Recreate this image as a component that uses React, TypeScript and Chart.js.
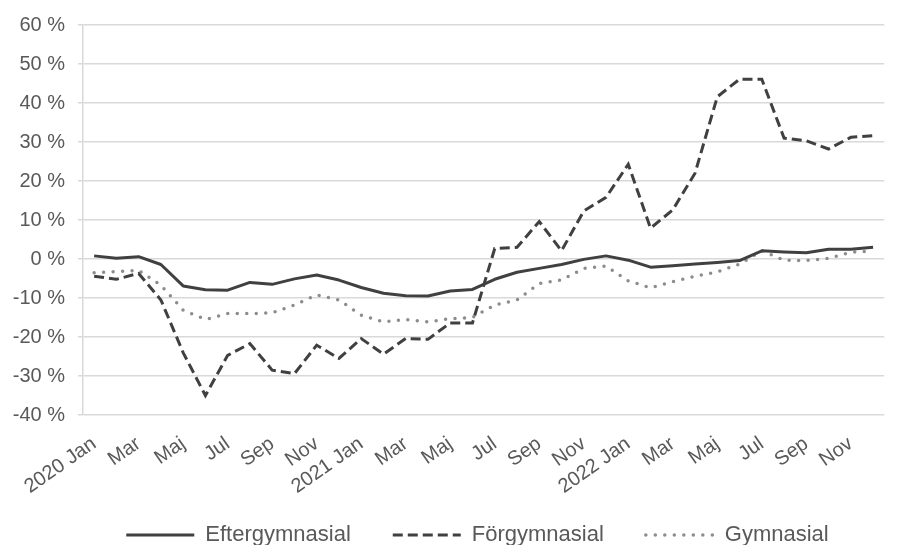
import React, { useEffect, useRef } from "react";
import { Chart, registerables } from "chart.js";

Chart.register(...registerables);

const months = [
  "2020 Jan", "Feb", "Mar", "Apr", "Maj", "Jun", "Jul", "Aug", "Sep", "Okt", "Nov", "Dec",
  "2021 Jan", "Feb", "Mar", "Apr", "Maj", "Jun", "Jul", "Aug", "Sep", "Okt", "Nov", "Dec",
  "2022 Jan", "Feb", "Mar", "Apr", "Maj", "Jun", "Jul", "Aug", "Sep", "Okt", "Nov", "Dec",
];

const eftergymnasial = [
  0.8, 0.2, 0.6, -1.4, -6.9, -7.9, -8.0, -6.0, -6.5, -5.1, -4.1, -5.4,
  -7.3, -8.8, -9.4, -9.5, -8.2, -7.8, -5.2, -3.4, -2.4, -1.4, -0.1, 0.8,
  -0.3, -2.1, -1.7, -1.3, -0.9, -0.4, 2.1, 1.8, 1.6, 2.5, 2.5, 3.0,
];

const forgymnasial = [
  -4.4, -5.2, -3.7, -10.5, -24, -35, -24.7, -21.7, -28.5, -29.4, -22.1, -25.5,
  -20.4, -24.4, -20.4, -20.6, -16.4, -16.4, 2.7, 3.0, 9.6, 2.1, 12.3, 15.8,
  24.3, 7.9, 12.6, 22, 41.6, 46.1, 46.1, 31, 30.3, 28.2, 31.2, 31.6,
];

const gymnasial = [
  -3.5, -3.2, -2.9, -6.7, -13.1, -15.5, -14, -14, -13.8, -11.8, -9.2, -10.5,
  -14.4, -16.1, -15.5, -16.1, -15.3, -15, -11.8, -10.5, -6.3, -5.4, -2.4, -1.8,
  -5.6, -7.4, -5.8, -4.4, -3.3, -1.3, 2.1, -0.3, -0.4, 0.2, 1.7, 2.1,
];

const seriesNames = ["Eftergymnasial", "Förgymnasial", "Gymnasial"];

const FONT = "'Liberation Sans', Arial, sans-serif";
const TEXT = "#595959";
const GRID = "#d9d9d9";

const layoutTweak = {
  id: "layoutTweak",
  afterLayout(chart: any) {
    const lg = chart.legend;
    if (lg) {
      lg.left += 31;
      lg.right += 31;
    }
    const x = chart.scales.x;
    if (x) {
      x.bottom = chart.height;
    }
  },
};

export default function App() {
  const ref = useRef<HTMLCanvasElement | null>(null);

  useEffect(() => {
    document.body.style.margin = "0";
    document.body.style.overflow = "hidden";
    if (!ref.current) return;
    const chart = new Chart(ref.current, {
      type: "line",
      data: {
        labels: months,
        datasets: [
          {
            label: seriesNames[0],
            data: eftergymnasial,
            borderColor: "#404040",
            backgroundColor: "#404040",
            borderWidth: 3,
            pointRadius: 0,
            tension: 0,
            borderJoinStyle: "round",
          },
          {
            label: seriesNames[1],
            data: forgymnasial,
            borderColor: "#404040",
            backgroundColor: "#404040",
            borderWidth: 3,
            borderDash: [10, 5],
            pointRadius: 0,
            tension: 0,
          },
          {
            label: seriesNames[2],
            data: gymnasial,
            borderColor: "#8c8c8c",
            backgroundColor: "#8c8c8c",
            borderWidth: 3.5,
            borderDash: [0, 9.5],
            borderCapStyle: "round",
            pointRadius: 0,
            tension: 0,
          },
        ],
      },
      plugins: [layoutTweak],
      options: {
        animation: false,
        responsive: false,
        maintainAspectRatio: false,
        layout: { padding: { left: 0, right: 11, top: 25, bottom: 0 } },
        plugins: {
          tooltip: { enabled: false },
          legend: {
            position: "bottom",
            labels: {
              usePointStyle: true,
              pointStyle: "line",
              pointStyleWidth: 68,
              padding: 42,
              color: TEXT,
              font: { family: FONT, size: 22 },
              generateLabels: (c: any) =>
                c.data.datasets.map((ds: any, i: number) => ({
                  text: ds.label,
                  fillStyle: ds.borderColor,
                  strokeStyle: ds.borderColor,
                  lineWidth: ds.borderWidth,
                  lineDash: ds.borderDash || [],
                  lineCap: ds.borderCapStyle || "butt",
                  pointStyle: "line",
                  fontColor: TEXT,
                  hidden: false,
                  datasetIndex: i,
                })),
            },
          },
        },
        scales: {
          x: {
            offset: true,
            grid: { display: false, drawTicks: false },
            border: { display: false },
            ticks: {
              autoSkip: false,
              minRotation: 35,
              maxRotation: 35,
              padding: 17,
              color: TEXT,
              font: { family: FONT, size: 20 },
              callback: (_v: any, i: number) => (i % 2 === 0 ? months[i] : ""),
            },
            afterFit: (s: any) => {
              s.height = 67;
            },
          },
          y: {
            min: -40,
            max: 60,
            grid: { color: GRID, lineWidth: 1.5, tickLength: 5 },
            border: { color: GRID, width: 1.5 },
            ticks: {
              stepSize: 10,
              padding: 13,
              color: TEXT,
              font: { family: FONT, size: 20 },
              callback: (v: any) => `${v} %`,
            },
            afterFit: (s: any) => {
              s.width = 83;
            },
          },
        },
      },
    });
    return () => chart.destroy();
  }, []);

  return (
    <div style={{ width: 904, height: 556 }}>
      <canvas ref={ref} width={904} height={556} style={{ display: "block" }} />
    </div>
  );
}
